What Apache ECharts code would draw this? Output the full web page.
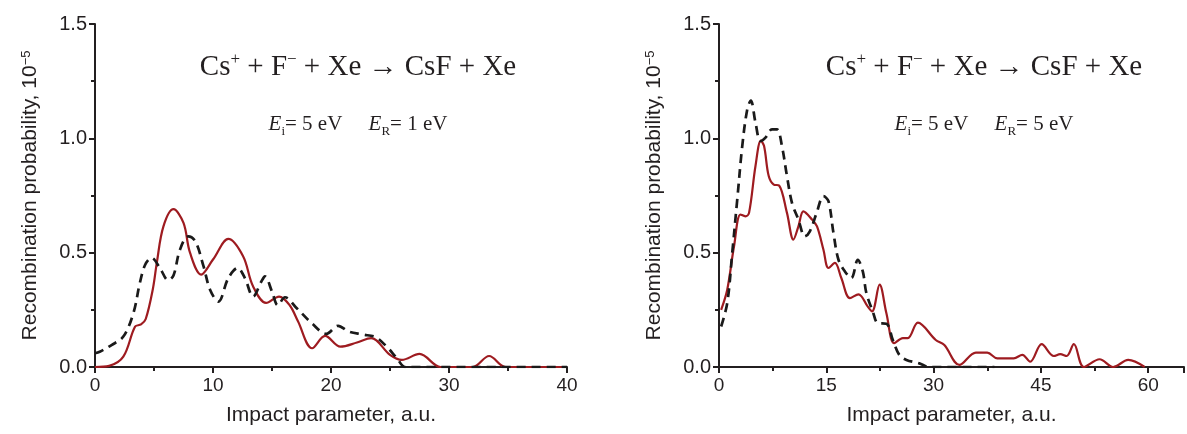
<!DOCTYPE html>
<html>
<head>
<meta charset="utf-8">
<script src="https://cdn.jsdelivr.net/npm/echarts@6/dist/echarts.min.js"></script>
<style>
html,body{margin:0;padding:0;background:#fff;}
#c{width:1187px;height:434px;}
</style>
</head>
<body>
<div id="c"></div>
<script>
// ---- data: [impact parameter (a.u.), recombination probability (1e-5)] ----
const leftSolid = [[0,0],[1.2,0.005],[2.4,0.045],[3.4,0.177],[3.9,0.186],[4.3,0.21],[4.9,0.34],[5.25,0.46],[5.8,0.615],[6.65,0.69],[7.5,0.63],[8.05,0.5],[9.0,0.404],[10.0,0.47],[11.3,0.56],[12.55,0.484],[13.4,0.352],[14.5,0.28],[15.6,0.308],[16.5,0.27],[17.2,0.2],[18.4,0.082],[19.5,0.136],[20.8,0.089],[22.2,0.107],[23.4,0.126],[25.0,0.053],[26.0,0.031],[27.5,0.057],[29.3,0],[32.0,0],[33.4,0.048],[34.8,0],[40,0]];
const leftDashed = [[0,0.06],[0.4,0.067],[1.4,0.096],[2.4,0.133],[3.25,0.235],[3.8,0.367],[4.25,0.447],[4.8,0.477],[5.5,0.433],[6.2,0.38],[6.65,0.4],[7.2,0.513],[7.9,0.571],[8.5,0.55],[9.2,0.44],[9.75,0.338],[10.45,0.286],[11.3,0.389],[12.1,0.433],[12.7,0.389],[13.4,0.308],[14.1,0.374],[14.4,0.396],[15.0,0.33],[15.5,0.27],[16.1,0.305],[17.1,0.257],[18.4,0.19],[19.6,0.145],[20.6,0.18],[21.5,0.155],[22.7,0.142],[23.8,0.13],[24.7,0.09],[25.6,0.038],[26.3,0],[40,0]];
const rightSolid = [[0.3,0.25],[1.15,0.338],[2.1,0.528],[3.0,0.667],[3.7,0.659],[4.2,0.674],[5.1,0.879],[5.85,0.99],[6.3,0.966],[6.95,0.835],[7.65,0.798],[8.4,0.794],[9.5,0.674],[10.4,0.557],[11.1,0.615],[11.8,0.681],[13.0,0.645],[13.7,0.615],[14.6,0.513],[15.3,0.433],[16.2,0.455],[17.1,0.389],[18.3,0.301],[19.5,0.318],[20.8,0.264],[21.4,0.243],[22.45,0.36],[23.4,0.235],[24.5,0.104],[25.7,0.126],[26.4,0.126],[27.8,0.194],[30.3,0.118],[31.5,0.096],[33.6,0.009],[35.9,0.063],[37.5,0.063],[38.9,0.038],[41.2,0.038],[42.4,0.053],[43.5,0.023],[45.1,0.1],[46.8,0.048],[47.7,0.056],[48.6,0.048],[49.6,0.1],[51.0,0],[53.2,0.034],[55.1,0],[57.2,0.031],[59.5,0]];
const rightDashed = [[0.3,0.177],[1.15,0.279],[1.85,0.499],[2.55,0.732],[3.25,0.966],[3.95,1.127],[4.45,1.165],[5.1,1.069],[5.8,0.988],[6.5,1.003],[7.4,1.039],[8.1,1.039],[8.8,0.966],[9.5,0.835],[10.2,0.718],[11.1,0.645],[12.0,0.571],[12.7,0.593],[13.65,0.674],[14.6,0.747],[15.3,0.725],[16.0,0.586],[16.7,0.469],[17.6,0.418],[18.5,0.389],[19.4,0.469],[20.1,0.418],[20.6,0.323],[21.5,0.243],[22.2,0.192],[23.4,0.189],[24.3,0.118],[25.2,0.053],[26.2,0.031],[28.0,0.016],[29.4,0],[38.5,0]];

const leftXTicks = {min: 0, max: 40, interval: 10};
const rightXTicks = {min: 0, max: 65, interval: 15, minorInterval: 7.5};
const yTicks = {min: 0, max: 1.5, interval: 0.5};
const yName = 'Recombination probability, 10{sup|\u22125}';
const xName = 'Impact parameter, a.u.';
const reaction = '{n|Cs}{sup|+}{n| + F}{sup|\u2212}{n| + Xe \u2192 CsF + Xe}';
const energiesLeft = '{e|E}{sub|i}{n|= 5 eV     }{e|E}{sub|R}{n|= 1 eV}';
const energiesRight = '{e|E}{sub|i}{n|= 5 eV     }{e|E}{sub|R}{n|= 5 eV}';

const INK = '#231f20';
const RED = '#9e1b20';
const DARK = '#1a1a1a';
const SANS = '"Liberation Sans", Arial, sans-serif';
const SERIF = '"Liberation Serif", "Times New Roman", serif';

const chart = echarts.init(document.getElementById('c'), null, {renderer: 'canvas'});

function yAxis(gridIndex) {
  return {
    type: 'value', gridIndex, min: yTicks.min, max: yTicks.max, interval: yTicks.interval,
    name: yName, nameLocation: 'middle', nameGap: 54, nameRotate: 90,
    nameTextStyle: {fontFamily: SANS, fontSize: 21, color: INK,
      rich: {sup: {fontFamily: SANS, fontSize: 13, color: INK, verticalAlign: 'top', lineHeight: 14}}},
    axisLine: {show: true, lineStyle: {color: INK, width: 2}},
    axisTick: {show: true, length: 6, lineStyle: {color: INK, width: 2}},
    minorTick: {show: true, splitNumber: 2, length: 4, lineStyle: {color: INK, width: 2}},
    splitLine: {show: false},
    axisLabel: {fontFamily: SANS, fontSize: 20, color: INK, margin: 8, formatter: v => v.toFixed(1)}
  };
}

function titleBlock(x, text1, text2) {
  return [
    {text: text1, left: x, top: 51, textAlign: 'center', padding: 0,
      textStyle: {fontFamily: SERIF, fontSize: 29, fontWeight: 'normal', color: INK,
        rich: {n: {fontFamily: SERIF, fontSize: 29, color: INK, lineHeight: 33},
               sup: {fontFamily: SERIF, fontSize: 17, color: INK, verticalAlign: 'top', lineHeight: 33, padding: [0,0,14,0]}}}},
    {text: text2, left: x, top: 111, textAlign: 'center', padding: 0,
      textStyle: {fontFamily: SERIF, fontSize: 21, fontWeight: 'normal', color: INK,
        rich: {n: {fontFamily: SERIF, fontSize: 21, color: INK, lineHeight: 27},
               e: {fontFamily: SERIF, fontSize: 21, fontStyle: 'italic', color: INK, lineHeight: 27},
               sub: {fontFamily: SERIF, fontSize: 13, color: INK, verticalAlign: 'bottom', lineHeight: 27, padding: [12,0,0,0]}}}}
  ];
}

const option = {
  animation: false,
  backgroundColor: '#ffffff',
  title: [...titleBlock(358, reaction, energiesLeft), ...titleBlock(984, reaction, energiesRight)],
  grid: [
    {left: 95, top: 24, width: 472, height: 343, containLabel: false},
    {left: 719, top: 24, width: 470.5, height: 343, containLabel: false}
  ],
  xAxis: [
    {type: 'value', gridIndex: 0, position: 'bottom', min: leftXTicks.min, max: leftXTicks.max, interval: leftXTicks.interval,
     name: xName, nameLocation: 'middle', nameGap: 38,
     nameTextStyle: {fontFamily: SANS, fontSize: 21, color: INK},
     axisLine: {show: true, onZero: false, lineStyle: {color: INK, width: 2}},
     axisTick: {show: true, length: 6, lineStyle: {color: INK, width: 2}},
     minorTick: {show: true, splitNumber: 2, length: 4, lineStyle: {color: INK, width: 2}},
     splitLine: {show: false},
     axisLabel: {fontFamily: SANS, fontSize: 19, color: INK, margin: 9}},
    {type: 'value', gridIndex: 1, position: 'bottom', min: rightXTicks.min, max: rightXTicks.max, interval: rightXTicks.interval,
     name: xName, nameLocation: 'middle', nameGap: 38,
     nameTextStyle: {fontFamily: SANS, fontSize: 21, color: INK},
     axisLine: {show: true, onZero: false, lineStyle: {color: INK, width: 2}},
     axisTick: {show: true, length: 6, lineStyle: {color: INK, width: 2}},
     splitLine: {show: false},
     axisLabel: {fontFamily: SANS, fontSize: 19, color: INK, margin: 9,
       formatter: v => (v % rightXTicks.interval === 0 ? String(v) : '')}},
    {type: 'value', gridIndex: 1, position: 'bottom', offset: 0, min: rightXTicks.min, max: rightXTicks.max, interval: rightXTicks.minorInterval,
     axisLine: {show: false, onZero: false},
     axisTick: {show: true, length: 4, lineStyle: {color: INK, width: 2}},
     splitLine: {show: false},
     axisLabel: {show: false}}
  ],
  yAxis: [yAxis(0), yAxis(1)],
  series: [
    {type: 'line', xAxisIndex: 0, yAxisIndex: 0, data: leftSolid, smooth: 0.35, showSymbol: false,
     lineStyle: {color: RED, width: 2.2}, z: 3},
    {type: 'line', xAxisIndex: 0, yAxisIndex: 0, data: leftDashed, smooth: 0.35, showSymbol: false,
     lineStyle: {color: DARK, width: 2.7, type: [9, 6]}, z: 4},
    {type: 'line', xAxisIndex: 1, yAxisIndex: 1, data: rightSolid, smooth: 0.35, showSymbol: false,
     lineStyle: {color: RED, width: 2.2}, z: 3},
    {type: 'line', xAxisIndex: 1, yAxisIndex: 1, data: rightDashed, smooth: 0.35, showSymbol: false,
     lineStyle: {color: DARK, width: 2.7, type: [9, 6]}, z: 4}
  ]
};
chart.setOption(option);
</script>
</body>
</html>
